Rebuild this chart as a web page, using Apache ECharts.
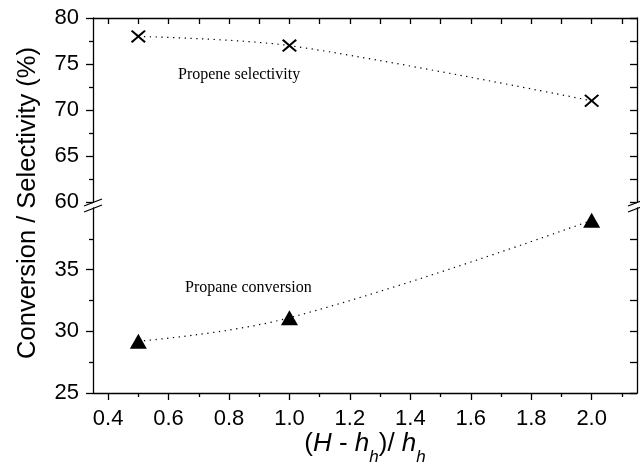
<!DOCTYPE html>
<html>
<head>
<meta charset="utf-8">
<script src="https://cdn.jsdelivr.net/npm/echarts@6/dist/echarts.min.js"></script>
<style>
  html, body { margin: 0; padding: 0; background: #fff; }
  #chart { width: 640px; height: 470px; }
</style>
</head>
<body>
<div id="chart"></div>
<script>
// data
const ratio = [0.5, 1.0, 2.0];
const selectivity = [78.0, 77.0, 71.0];
const conversion = [29.2, 31.1, 39.0];

const xMajorTicks = [0.4, 0.6, 0.8, 1.0, 1.2, 1.4, 1.6, 1.8, 2.0];
const xMinorTicks = [0.5, 0.7, 0.9, 1.1, 1.3, 1.5, 1.7, 1.9, 2.1];
const yLowTicks = [25, 30, 35];

const chart = echarts.init(document.getElementById('chart'));
const black = '#000';
const sans = 'Liberation Sans, Arial, sans-serif';
const serif = 'Liberation Serif, Times New Roman, serif';
const axisLine = { show: true, lineStyle: { color: black, width: 1.3 } };
const tickStyle = { color: black, width: 1.3 };
const dotted = { color: black, width: 1.2, type: [1.3, 4.5] };
const crossPath = 'path://M0,1.5L1.5,0L7.5,6L13.5,0L15,1.5L9,7.5L15,13.5L13.5,15L7.5,9L1.5,15L0,13.5L6,7.5Z';

const xMin = 0.35, xMax = 2.15;

const option = {
  animation: false,
  backgroundColor: '#fff',
  grid: [
    { left: 93, right: 3, top: 18, height: 184 },   // upper part 60-80
    { left: 93, right: 3, top: 208, height: 185 }   // lower part 25-40
  ],
  xAxis: [
    {
      gridIndex: 1, type: 'value', position: 'bottom', min: xMin, max: xMax,
      axisLine: axisLine,
      axisTick: { customValues: xMajorTicks, length: 7, lineStyle: tickStyle },
      axisLabel: {
        customValues: xMajorTicks, fontSize: 22, color: black, fontFamily: sans, margin: 15,
        formatter: v => v.toFixed(1)
      },
      splitLine: { show: false },
      name: '{p|(}{i|H}{p| - }{i|h}{s|h}{p|)/ }{i|h}{s|h}',
      nameLocation: 'middle',
      nameGap: 36,
      nameTextStyle: {
        rich: {
          p: { fontSize: 26, fontFamily: sans, color: black, lineHeight: 30, verticalAlign: 'top' },
          i: { fontSize: 26, fontFamily: sans, color: black, fontStyle: 'italic', lineHeight: 30, verticalAlign: 'top' },
          s: { fontSize: 17, fontFamily: sans, color: black, fontStyle: 'italic', lineHeight: 18, verticalAlign: 'top', padding: [18, 0, 0, 0] }
        }
      }
    },
    {
      gridIndex: 1, type: 'value', position: 'bottom', min: xMin, max: xMax,
      axisLine: { show: false },
      axisTick: { customValues: xMinorTicks, length: 4, lineStyle: tickStyle },
      axisLabel: { show: false },
      splitLine: { show: false }
    },
    {
      gridIndex: 0, type: 'value', position: 'top', min: xMin, max: xMax,
      axisLine: axisLine,
      axisTick: { inside: true, customValues: xMajorTicks.concat(xMinorTicks), length: 6, lineStyle: tickStyle },
      axisLabel: { show: false },
      splitLine: { show: false }
    }
  ],
  yAxis: [
    {
      gridIndex: 0, type: 'value', position: 'left', min: 60, max: 80, interval: 5,
      axisLine: axisLine,
      axisTick: { length: 7, lineStyle: tickStyle },
      minorTick: { show: true, splitNumber: 2, length: 4, lineStyle: tickStyle },
      axisLabel: { fontSize: 22, color: black, fontFamily: sans, margin: 14 },
      splitLine: { show: false }
    },
    {
      gridIndex: 0, type: 'value', position: 'right', min: 60, max: 80, interval: 5,
      axisLine: axisLine,
      axisTick: { inside: true, length: 7, lineStyle: tickStyle },
      minorTick: { show: true, splitNumber: 2, length: 7, lineStyle: tickStyle },
      axisLabel: { show: false },
      splitLine: { show: false }
    },
    {
      gridIndex: 1, type: 'value', position: 'left', min: 25, max: 40, interval: 5,
      axisLine: axisLine,
      axisTick: { customValues: yLowTicks, length: 7, lineStyle: tickStyle },
      minorTick: { show: true, splitNumber: 2, length: 4, lineStyle: tickStyle },
      axisLabel: { customValues: yLowTicks, fontSize: 22, color: black, fontFamily: sans, margin: 14 },
      splitLine: { show: false }
    },
    {
      gridIndex: 1, type: 'value', position: 'right', min: 25, max: 40, interval: 5,
      axisLine: axisLine,
      axisTick: { inside: true, customValues: yLowTicks, length: 7, lineStyle: tickStyle },
      minorTick: { show: true, splitNumber: 2, length: 7, lineStyle: tickStyle },
      axisLabel: { show: false },
      splitLine: { show: false }
    }
  ],
  series: [
    {
      name: 'Propene selectivity', type: 'line', xAxisIndex: 2, yAxisIndex: 0,
      data: ratio.map((x, i) => [x, selectivity[i]]),
      smooth: 0.3,
      symbol: crossPath, symbolSize: [15, 13],
      itemStyle: { color: black },
      lineStyle: dotted
    },
    {
      name: 'Propane conversion', type: 'line', xAxisIndex: 0, yAxisIndex: 2,
      data: ratio.map((x, i) => [x, conversion[i]]),
      smooth: 0.4,
      symbol: 'triangle', symbolSize: [17, 15],
      itemStyle: { color: black },
      lineStyle: dotted
    }
  ],
  graphic: [
    {
      type: 'text', x: 28, y: 203, rotation: Math.PI / 2,
      style: { text: 'Conversion / Selectivity (%)', fontSize: 25.5, fontFamily: sans, fill: black, align: 'center', verticalAlign: 'middle' }
    },
    { type: 'text', x: 178, y: 75, style: { text: 'Propene selectivity', fontSize: 16, fontFamily: serif, fill: black, verticalAlign: 'middle' } },
    { type: 'text', x: 185, y: 288, style: { text: 'Propane conversion', fontSize: 16, fontFamily: serif, fill: black, verticalAlign: 'middle' } },
    // axis break marks
    { type: 'line', shape: { x1: 84, y1: 206, x2: 102, y2: 199 }, style: { stroke: black, lineWidth: 1.3 } },
    { type: 'line', shape: { x1: 84, y1: 212, x2: 102, y2: 205 }, style: { stroke: black, lineWidth: 1.3 } },
    { type: 'line', shape: { x1: 628, y1: 206, x2: 646, y2: 199 }, style: { stroke: black, lineWidth: 1.3 } },
    { type: 'line', shape: { x1: 628, y1: 212, x2: 646, y2: 205 }, style: { stroke: black, lineWidth: 1.3 } }
  ]
};

chart.setOption(option);
</script>
</body>
</html>
